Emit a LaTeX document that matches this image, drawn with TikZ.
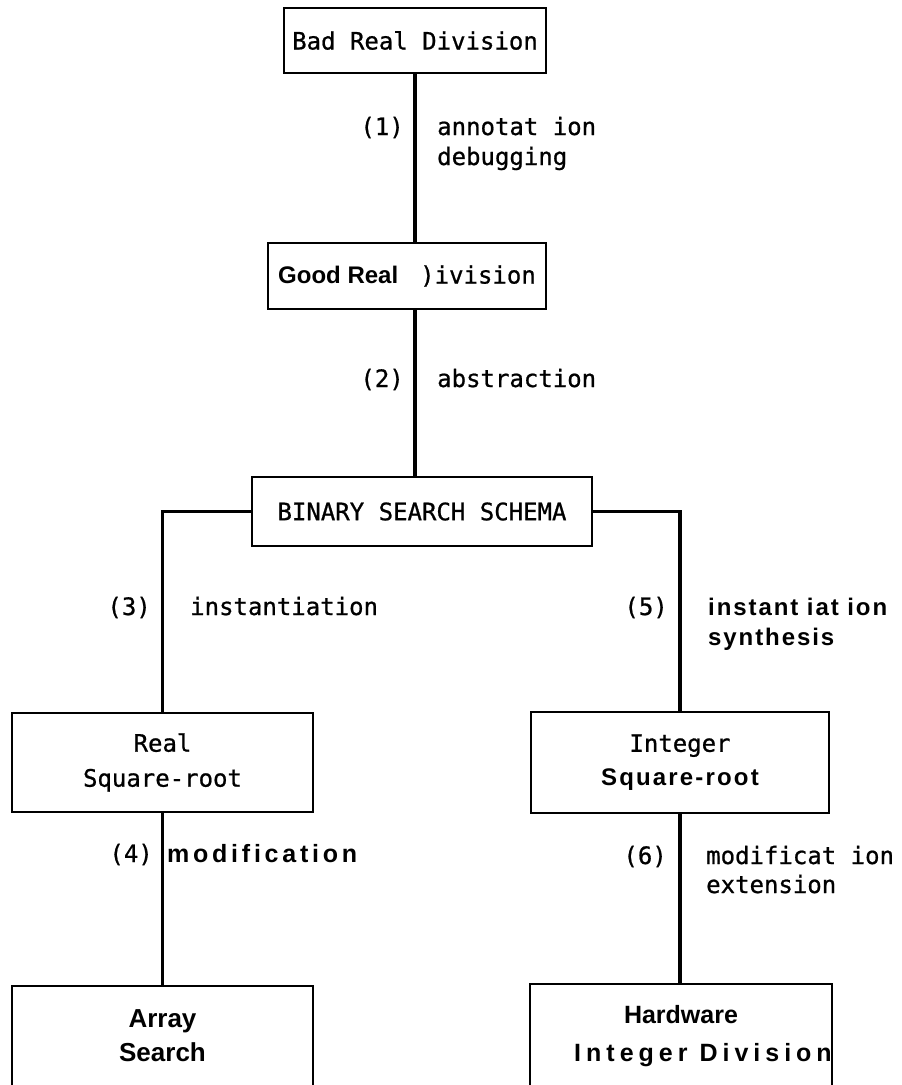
\documentclass[tikz,border=0pt]{standalone}
\usepackage{fontspec}
\setmainfont{Liberation Sans}
\newfontfamily\plotfont[FakeBold=0.8]{DejaVu Sans Mono}
\begin{document}
\begin{tikzpicture}[x=1pt,y=-1pt,
  box/.style={draw, line width=2.2pt, inner sep=0pt, align=center},
  conn/.style={line width=3.2pt},
  plt/.style={font=\plotfont\fontsize{24}{35}\selectfont, inner sep=0pt},
  bld/.style={font=\bfseries\fontsize{25}{35}\selectfont, inner sep=0pt}
]
\useasboundingbox (0,0) rectangle (902,1085);
\fill[white] (0,0) rectangle (902,1085);

% boxes
\node[box, plt, minimum width=262pt, minimum height=65pt] (b1) at (415,40.5) {Bad Real Division};
\node[box, minimum width=278pt, minimum height=66pt, inner sep=0pt] (b2) at (407,276)
  {{\bfseries\fontsize{24}{35}\selectfont Good Real}\hspace{22pt}{\plotfont\fontsize{24}{35}\selectfont )ivision}};
\node[box, plt, minimum width=340pt, minimum height=69pt] (b3) at (422,511.5) {BINARY SEARCH SCHEMA};
\node[box, plt, minimum width=301pt, minimum height=99pt] (b4) at (162.5,762.5) {Real\\Square-root};
\node[box, minimum width=298pt, minimum height=101pt, font=\fontsize{24}{34}\selectfont] (b5) at (680,762.5)
  {{\plotfont Integer}\\{\bfseries\addfontfeatures{LetterSpace=9}Square-root}};
\node[box, bld, minimum width=301pt, minimum height=100pt, font=\bfseries\fontsize{26}{34}\selectfont] (b6) at (162.5,1036) {Array\\Search};
\node[box, bld, minimum width=296pt, minimum height=104pt, font=\bfseries\fontsize{25}{38}\selectfont] (b7) at (681,1036)
  {Hardware\\\hspace*{44pt}{\addfontfeatures{LetterSpace=20}Integer Division}};

% connectors
\draw[conn] (b1.south) -- (b1.south |- b2.north);
\draw[conn] (b1.south |- b2.south) -- (b1.south |- b3.north);
\draw[conn] (b3.west) -- (b3.west -| b4.north) -- (b4.north);
\draw[conn] (b3.east) -- (b3.east -| b5.north) -- (b5.north);
\draw[conn] (b4.south) -- (b6.north);
\draw[conn] (b5.south) -- (b5.south |- b7.north);

% labels
\node[plt, anchor=base east] (n1) at (404,135) {(1)};
\node[plt, anchor=base west] (t1a) at (437,135) {annotat ion};
\node[plt, anchor=base west] (t1b) at (437,165) {debugging};
\node[plt, anchor=base east] (n2) at (404,387) {(2)};
\node[plt, anchor=base west] (t2) at (437,387) {abstraction};
\node[plt, anchor=base east] (n3) at (151,615) {(3)};
\node[plt, anchor=base west] (t3) at (190,615) {instantiation};
\node[plt, anchor=base east] (n5) at (668,615) {(5)};
\node[bld, font=\bfseries\fontsize{24}{30}\selectfont\addfontfeatures{LetterSpace=8}, anchor=base west] (t5a) at (708,615) {instant iat ion};
\node[bld, font=\bfseries\fontsize{24}{30}\selectfont\addfontfeatures{LetterSpace=8}, anchor=base west] (t5b) at (708,645) {synthesis};
\node[plt, anchor=base east] (n4) at (153,862) {(4)};
\node[bld, font=\bfseries\fontsize{25}{30}\selectfont\addfontfeatures{LetterSpace=15}, anchor=base west] (t4) at (167,862) {modification};
\node[plt, anchor=base east] (n6) at (667,864) {(6)};
\node[plt, anchor=base west] (t6a) at (706,864) {modificat ion};
\node[plt, anchor=base west] (t6b) at (706,893) {extension};
\end{tikzpicture}
\end{document}
